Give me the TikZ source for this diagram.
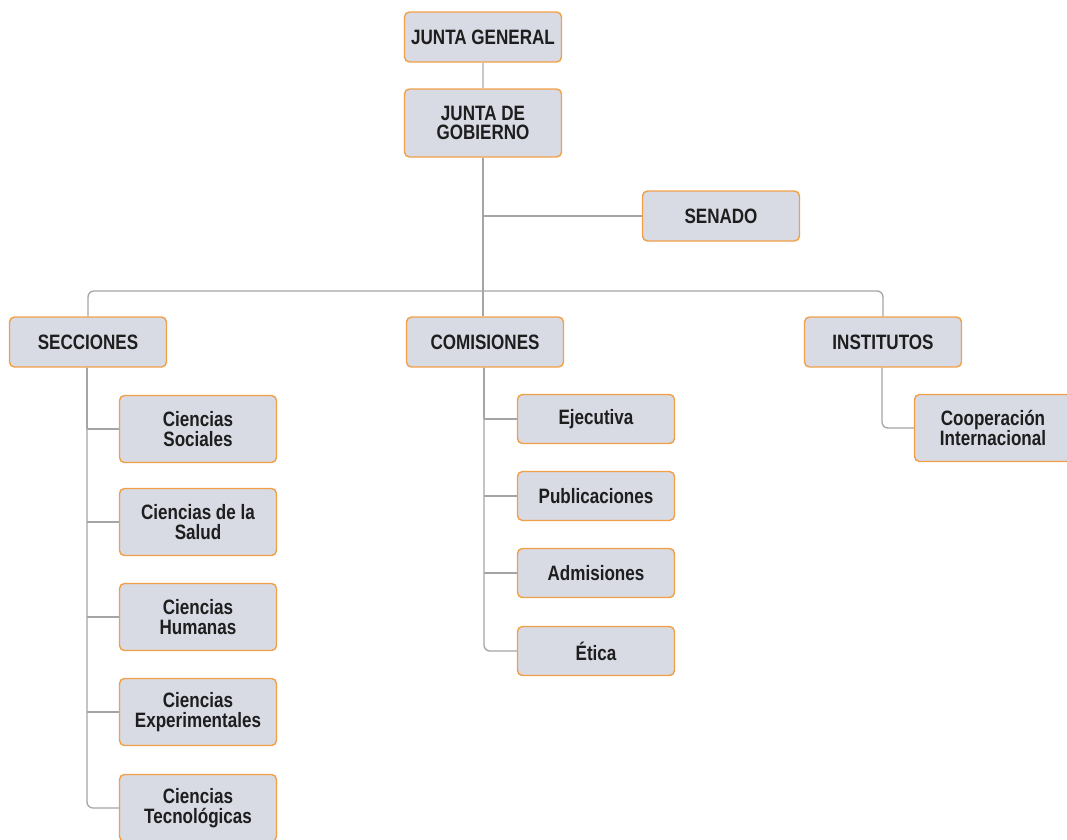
\documentclass[tikz,border=0pt]{standalone}
\usepackage{fontspec}
\setmainfont{Liberation Sans}[FakeStretch=0.82]
\definecolor{boxfill}{RGB}{216,218,228}
\definecolor{boxedge}{RGB}{242,160,70}
\definecolor{linecol}{RGB}{165,165,168}
\definecolor{lightline}{RGB}{200,200,202}
\definecolor{txt}{RGB}{30,30,30}
\tikzset{
  orgbox/.style={draw=boxedge, line width=1.4pt, fill=boxfill, rounded corners=5pt,
    minimum width=157pt, minimum height=50pt, align=center, text=txt,
    font=\fontsize{20.8pt}{19.5pt}\selectfont\bfseries, inner sep=2pt},
  tallbox/.style={orgbox, minimum height=67pt},
  conn/.style={draw=linecol, line width=1.3pt, rounded corners=6pt}
}
\begin{document}
\begin{tikzpicture}[x=1pt,y=-1pt]
\useasboundingbox (0,0) rectangle (1067,839);
\clip (0,0) rectangle (1067,839);
% nodes
\node[orgbox]  (jg)    at (483,37)  {JUNTA GENERAL};
\node[tallbox, minimum height=68pt] (jgob) at (483,123) {JUNTA DE\\GOBIERNO};
\node[orgbox]  (sen)   at (721,216) {SENADO};
\node[orgbox]  (secc)  at (88,342)  {SECCIONES};
\node[orgbox]  (com)   at (485,342) {COMISIONES};
\node[orgbox]  (inst)  at (883,342) {INSTITUTOS};
\node[tallbox] (cs)    at (198,429) {Ciencias\\Sociales};
\node[tallbox] (csal)  at (198,522) {Ciencias de la\\Salud};
\node[tallbox] (ch)    at (198,617) {Ciencias\\Humanas};
\node[tallbox] (cexp)  at (198,712) {Ciencias\\Experimentales};
\node[tallbox] (ctec)  at (198,808) {Ciencias\\Tecnológicas};
\node[orgbox, minimum height=49pt] (eje)   at (596,419) {Ejecutiva};
\node[orgbox, minimum height=49pt] (pub)   at (596,496) {Publicaciones};
\node[orgbox, minimum height=49pt] (adm)   at (596,573) {Admisiones};
\node[orgbox, minimum height=49pt] (eti)   at (596,651) {Ética};
\node[tallbox] (coop)  at (993,428) {Cooperación\\Internacional};
\coordinate (bar) at (483,291);
% connectors
\draw[conn, draw=lightline] (jg.south) -- (jgob.north);
\draw[conn] (jgob.south) -- (bar);
\draw[conn] (jgob.south |- sen.west) -- (sen.west);
\draw[conn] (secc.north) |- (bar) -| (inst.north);
\draw[conn] (bar) -- (bar |- com.north);
\draw[conn] (secc.south) ++(-1,0) coordinate (sv) -- (sv |- cs.west);
\draw[conn] (sv |- cs.west) -- (cs.west);
\draw[conn] (sv |- csal.west) -- (csal.west);
\draw[conn] (sv |- ch.west) -- (ch.west);
\draw[conn] (sv |- cexp.west) -- (cexp.west);
\draw[conn] (sv) |- (ctec.west);
\draw[conn] (com.south) ++(-1,0) coordinate (cv) -- (cv |- eje.west);
\draw[conn] (cv |- eje.west) -- (eje.west);
\draw[conn] (cv |- pub.west) -- (pub.west);
\draw[conn] (cv |- adm.west) -- (adm.west);
\draw[conn] (cv) |- (eti.west);
\draw[conn] (inst.south) ++(-1,0) coordinate (iv) |- (coop.west);
\end{tikzpicture}
\end{document}
